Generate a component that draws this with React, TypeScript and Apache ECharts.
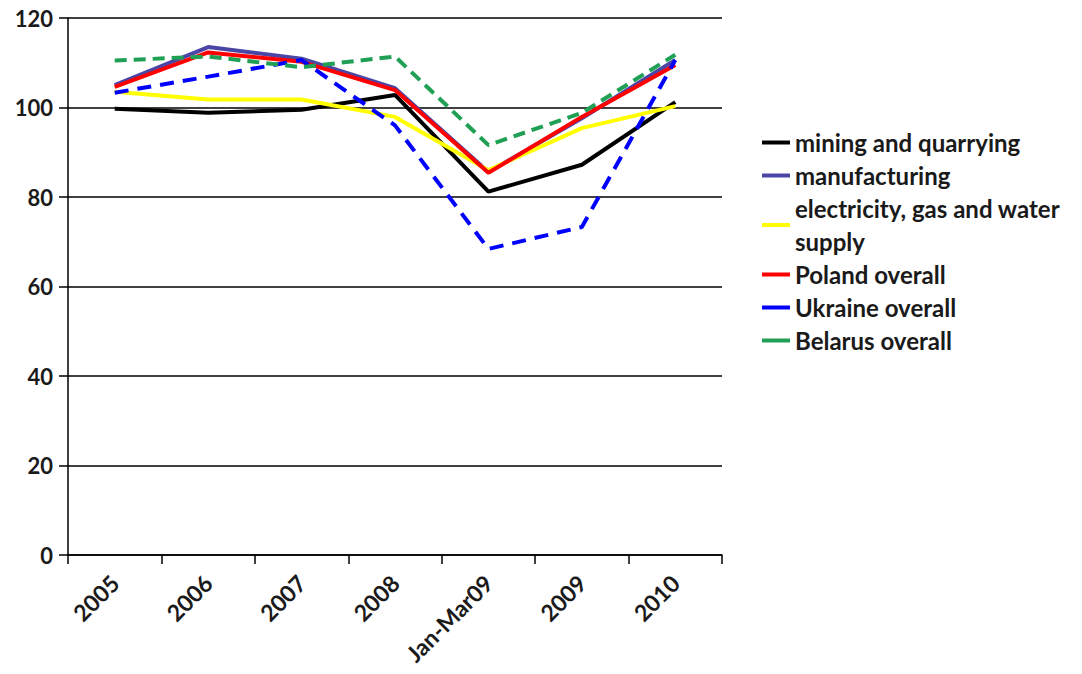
import React, { useEffect, useRef } from "react";
import * as echarts from "echarts";

const categories = ["2005", "2006", "2007", "2008", "Jan-Mar09", "2009", "2010"];
const mining = [99.7, 98.8, 99.5, 102.8, 81.2, 87.2, 101.2];
const manufacturing = [105.0, 113.5, 110.9, 104.3, 85.6, 97.6, 110.6];
const electricity = [103.5, 101.8, 101.8, 97.9, 86.0, 95.4, 100.3];
const poland = [104.6, 112.3, 110.2, 103.9, 85.4, 97.9, 109.5];
const ukraine = [103.3, 106.9, 110.6, 96.0, 68.4, 73.3, 110.6];
const belarus = [110.5, 111.4, 109.0, 111.4, 91.6, 98.8, 111.8];
const yTicks = [0, 20, 40, 60, 80, 100, 120];

const FONT = "Lato, 'Open Sans', sans-serif";

export default function App() {
  const ref = useRef<HTMLDivElement>(null);
  useEffect(() => {
    if (!ref.current) return;
    const chart = echarts.init(ref.current, undefined, { renderer: "svg" });
    const mk = (name: string, data: number[], color: string, type: any) => ({
      name,
      type: "line",
      data,
      symbol: "none",
      lineStyle: { color, width: 4, type },
      itemStyle: { color },
    });
    chart.setOption({
      animation: false,
      backgroundColor: "#ffffff",
      grid: { left: 68, right: 360, top: 18, bottom: 119, containLabel: false },
      legend: {
        orient: "vertical",
        left: 757,
        top: 121,
        itemWidth: 28,
        itemHeight: 4,
        itemGap: 0,
        icon: "rect",
        textStyle: { fontFamily: FONT, fontSize: 24, fontWeight: "bold", color: "#1a1a1a", lineHeight: 33 },
        formatter: (n: string) => (n.startsWith("electricity") ? "electricity, gas and water\nsupply" : n),
        data: [
          "mining and quarrying",
          "manufacturing",
          "electricity, gas and water supply",
          "Poland overall",
          "Ukraine overall",
          "Belarus overall",
        ],
      },
      xAxis: {
        type: "category",
        data: categories,
        boundaryGap: true,
        axisLine: { lineStyle: { color: "#000", width: 1.5 } },
        axisTick: { show: true, length: 9, lineStyle: { color: "#000", width: 1.5 } },
        axisLabel: { rotate: 45, fontFamily: FONT, fontSize: 23, fontWeight: "bold", color: "#1a1a1a", margin: 24 },
      },
      yAxis: {
        type: "value",
        min: 0,
        max: 120,
        interval: 20,
        axisLine: { show: true, lineStyle: { color: "#000", width: 1.5 } },
        axisTick: { show: true, length: 9, lineStyle: { color: "#000", width: 1.5 } },
        splitLine: { lineStyle: { color: "#000", width: 1.5 } },
        axisLabel: {
          fontFamily: FONT,
          fontSize: 22,
          fontWeight: "bold",
          color: "#1a1a1a",
          margin: 15,
          formatter: (v: number) => (yTicks.includes(v) ? String(v) : ""),
        },
      },
      series: [
        mk("mining and quarrying", mining, "#000000", "solid"),
        mk("manufacturing", manufacturing, "#4a46a6", "solid"),
        mk("electricity, gas and water supply", electricity, "#ffff00", "solid"),
        mk("Poland overall", poland, "#ff0000", "solid"),
        mk("Ukraine overall", ukraine, "#0000ff", [14, 9]),
        mk("Belarus overall", belarus, "#1fa055", [12, 7]),
      ],
    });
    return () => chart.dispose();
  }, []);
  return <div ref={ref} style={{ width: 1082, height: 674, position: "absolute", left: 0, top: 0 }} />;
}
